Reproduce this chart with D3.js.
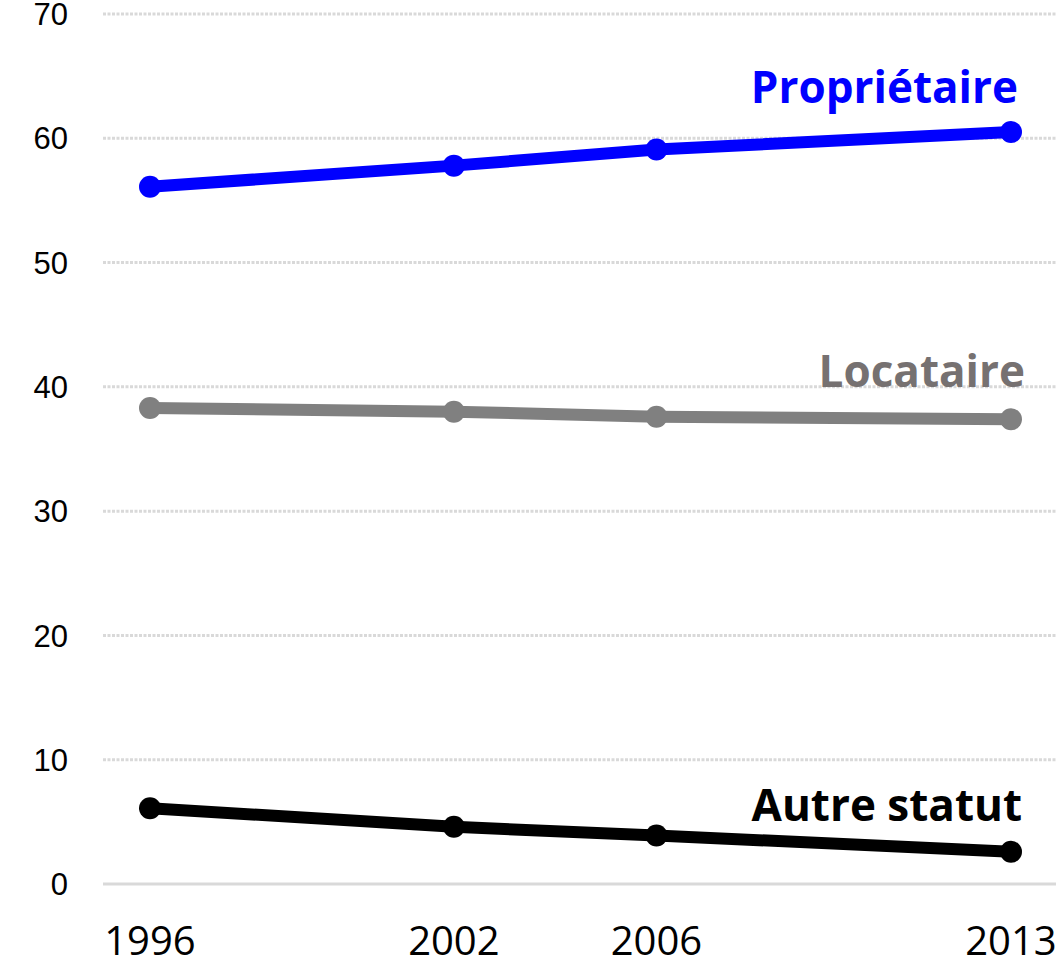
<!DOCTYPE html>
<html>
<head>
<meta charset="utf-8">
<script src="https://cdn.jsdelivr.net/npm/d3@7"></script>
<style>
  body { margin: 0; background: #fff; }
  svg { display: block; }
</style>
</head>
<body>
<svg id="chart"></svg>
<script>
// Data
const years = [1996, 2002, 2006, 2013];
const proprietaire = [56.1, 57.8, 59.1, 60.5];
const locataire = [38.3, 38.0, 37.6, 37.4];
const autreStatut = [6.1, 4.6, 3.9, 2.6];
const yTicks = [0, 10, 20, 30, 40, 50, 60, 70];

// label position given in data units (value axis)
const series = [
    { name: "Propriétaire", values: proprietaire, color: "#0000ff", labelColor: "#0000ff", labelAt: 64.1, labelX: 1018 },
    { name: "Locataire", values: locataire, color: "#808080", labelColor: "#767171", labelAt: 41.2, labelX: 1025 },
    { name: "Autre statut", values: autreStatut, color: "#000000", labelColor: "#000000", labelAt: 6.3, labelX: 1022 }
];

const width = 1056, height = 970;

const svg = d3.select("#chart")
    .attr("width", width)
    .attr("height", height);

const x = d3.scaleLinear()
    .domain([1996, 2013])
    .range([150, 1011]);

const y = d3.scaleLinear()
    .domain([0, 70])
    .range([884, 14]);

// Gridlines (dotted) and zero line (solid)
svg.append("g")
    .selectAll("line")
    .data(yTicks)
    .enter()
    .append("line")
    .attr("x1", 103)
    .attr("x2", width)
    .attr("y1", d => y(d))
    .attr("y2", d => y(d))
    .attr("stroke", "#d9d9d9")
    .attr("stroke-width", 3)
    .attr("stroke-dasharray", d => d === 0 ? null : "3,1.5");

// Y axis labels
svg.append("g")
    .selectAll("text")
    .data(yTicks)
    .enter()
    .append("text")
    .attr("x", 68)
    .attr("y", d => y(d))
    .attr("dy", "0.36em")
    .attr("text-anchor", "end")
    .style("font-family", "'Liberation Sans', Arial, sans-serif")
    .style("font-size", "31px")
    .attr("fill", "#000")
    .text(d => d);

// X axis labels
svg.append("g")
    .selectAll("text")
    .data(years)
    .enter()
    .append("text")
    .attr("x", d => x(d))
    .attr("y", 955)
    .attr("text-anchor", "middle")
    .style("font-family", "'Liberation Sans Narrow', 'Open Sans', sans-serif")
    .style("font-size", "40px")
    .attr("fill", "#000")
    .text(d => d);

const line = d3.line()
    .x((d, i) => x(years[i]))
    .y(d => y(d));

series.forEach(s => {
    const g = svg.append("g");

    g.append("path")
        .datum(s.values)
        .attr("d", line)
        .attr("fill", "none")
        .attr("stroke", s.color)
        .attr("stroke-width", 12)
        .attr("stroke-linejoin", "round");

    g.selectAll("circle")
        .data(s.values)
        .enter()
        .append("circle")
        .attr("cx", (d, i) => x(years[i]))
        .attr("cy", d => y(d))
        .attr("r", 11)
        .attr("fill", s.color);

    g.append("text")
        .attr("x", s.labelX)
        .attr("y", y(s.labelAt))
        .attr("dy", "0.35em")
        .attr("text-anchor", "end")
        .style("font-family", "'Open Sans', 'Noto Sans', sans-serif")
        .style("font-weight", "bold")
        .style("font-size", "44px")
        .attr("fill", s.labelColor)
        .text(s.name);
});
</script>
</body>
</html>
